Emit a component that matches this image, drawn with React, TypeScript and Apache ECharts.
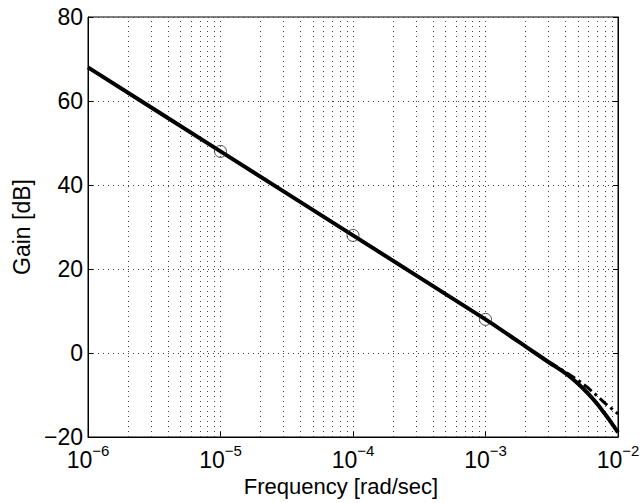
import React, { useEffect, useRef } from "react";
import * as echarts from "echarts";

// Frequencies [rad/sec] and gains [dB]
const solidFreq = [1e-6, 1e-5, 1e-4, 1e-3, 2e-3, 3e-3, 4e-3, 5e-3, 6e-3, 7e-3, 8e-3, 9e-3, 1e-2];
const solidGain = [68, 48, 28, 8, 1.6, -2.2, -4.8, -7.3, -9.8, -12.2, -14.6, -16.8, -18.9];

const dashFreq = [3e-3, 4e-3, 5e-3, 6e-3, 7e-3, 8e-3, 9e-3, 1e-2];
const dashGain = [-2.1, -4.5, -6.5, -8.4, -10.3, -12.0, -13.3, -14.5];

const markerFreq = [1e-5, 1e-4, 1e-3];
const markerGain = [48, 28, 8];

// axis ranges / grid positions
const xMin = 1e-6;
const xMax = 1e-2;
const decades = [1e-6, 1e-5, 1e-4, 1e-3];
const minorMultiples = [2, 3, 4, 5, 6, 7, 8, 9];
const yMin = -20;
const yMax = 80;
const yStep = 20;

const FONT = "'Liberation Sans', Arial, Helvetica, sans-serif";
const MINUS = "\u2212";
const DOT: any = [1, 4];

export default function App() {
  const ref = useRef<HTMLDivElement>(null);

  useEffect(() => {
    if (!ref.current) return;
    const chart = echarts.init(ref.current, null, { renderer: "svg" });

    const gridValues: number[] = [];
    decades.forEach((d) => {
      if (d !== xMin) gridValues.push(d);
      minorMultiples.forEach((m) => gridValues.push(m * d));
    });

    const option: any = {
      animation: false,
      backgroundColor: "#fff",
      textStyle: { fontFamily: FONT },
      grid: {
        left: 88,
        right: 25,
        top: 17,
        bottom: 66,
        show: true,
        borderColor: "#000",
        borderWidth: 1,
        backgroundColor: "transparent",
        containLabel: false,
      },
      xAxis: {
        type: "log",
        logBase: 10,
        min: xMin,
        max: xMax,
        splitNumber: 4,
        name: "Frequency [rad/sec]",
        nameLocation: "middle",
        nameGap: 31,
        nameTextStyle: {
          fontFamily: FONT,
          fontSize: 22,
          color: "#000",
          padding: [0, 24, 0, 0],
        },
        axisLine: { show: true, onZero: false, lineStyle: { color: "#000", width: 1 } },
        axisTick: { show: true, inside: true, length: 5, lineStyle: { color: "#000" } },
        splitLine: { show: false },
        axisLabel: {
          margin: 6,
          color: "#000",
          formatter: (v: number) => {
            const e = Math.round(Math.log10(v));
            return "{b|10}{s|" + (e < 0 ? MINUS : "") + Math.abs(e) + "}";
          },
          rich: {
            b: { fontFamily: FONT, fontSize: 23, color: "#000", lineHeight: 28, verticalAlign: "bottom" },
            s: { fontFamily: FONT, fontSize: 15, color: "#000", lineHeight: 28, verticalAlign: "top" },
          },
        },
      },
      yAxis: [
        {
          type: "value",
          min: yMin,
          max: yMax,
          interval: yStep,
          name: "Gain [dB]",
          nameLocation: "middle",
          nameGap: 54,
          nameTextStyle: { fontFamily: FONT, fontSize: 23, color: "#000" },
          axisLine: { show: true, onZero: false, lineStyle: { color: "#000", width: 1 } },
          axisTick: { show: true, inside: true, length: 5, lineStyle: { color: "#000" } },
          axisLabel: {
            margin: 5,
            fontFamily: FONT,
            fontSize: 23,
            color: "#000",
            formatter: (v: number) => (v < 0 ? MINUS + Math.abs(v) : String(v)),
          },
          splitLine: {
            show: true,
            lineStyle: { color: "#444", width: 1, type: DOT },
          },
        },
        {
          type: "value",
          position: "right",
          min: yMin,
          max: yMax,
          interval: yStep,
          axisLine: { show: true, onZero: false, lineStyle: { color: "#000", width: 1 } },
          axisTick: { show: true, inside: true, length: 5, lineStyle: { color: "#000" } },
          axisLabel: { show: false },
          splitLine: { show: false },
        },
      ],
      series: [
        {
          name: "vgrid",
          type: "lines",
          coordinateSystem: "cartesian2d",
          silent: true,
          z: 1,
          lineStyle: { color: "#444", width: 1, type: DOT, opacity: 1 },
          data: gridValues.map((v) => ({ coords: [[v, yMin], [v, yMax]] })),
        },
        {
          name: "dashdot",
          type: "line",
          data: dashFreq.map((f, i) => [f, dashGain[i]]),
          showSymbol: false,
          z: 3,
          lineStyle: { color: "#000", width: 3, type: [10, 4, 3, 4] },
        },
        {
          name: "gain",
          type: "line",
          data: solidFreq.map((f, i) => [f, solidGain[i]]),
          showSymbol: false,
          smooth: 0.2,
          z: 4,
          lineStyle: { color: "#000", width: 4 },
        },
        {
          name: "markers",
          type: "scatter",
          data: markerFreq.map((f, i) => [f, markerGain[i]]),
          symbol: "circle",
          symbolSize: 12,
          z: 5,
          itemStyle: { color: "rgba(0,0,0,0)", borderColor: "#222", borderWidth: 1 },
        },
      ],
    };

    chart.setOption(option);
    return () => chart.dispose();
  }, []);

  return (
    <div
      ref={ref}
      style={{ position: "fixed", left: 0, top: 0, width: 643, height: 503, background: "#fff" }}
    />
  );
}
